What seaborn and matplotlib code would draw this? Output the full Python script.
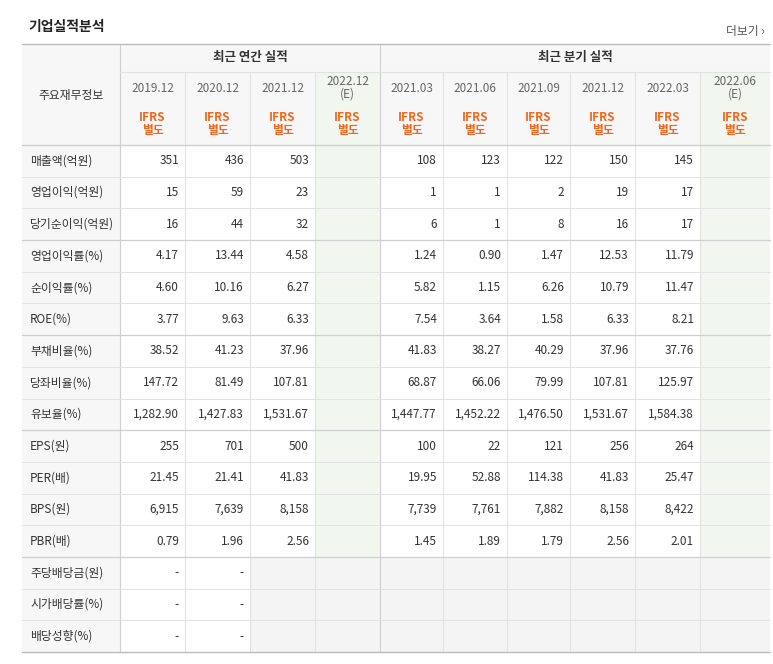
import matplotlib
matplotlib.use("Agg")
import matplotlib.pyplot as plt
import seaborn as sns
from matplotlib.patches import Rectangle

sns.set_theme(style="white")
plt.rcParams["font.family"] = ["Noto Sans CJK KR", "Noto Sans CJK JP", "Noto Sans CJK SC",
                               "Noto Sans CJK TC", "DejaVu Sans"]

annual_periods = ["2019.12", "2020.12", "2021.12", "2022.12\n(E)"]
quarter_periods = ["2021.03", "2021.06", "2021.09", "2021.12", "2022.03", "2022.06\n(E)"]
row_labels = ["매출액(억원)", "영업이익(억원)", "당기순이익(억원)", "영업이익률(%)", "순이익률(%)",
              "ROE(%)", "부채비율(%)", "당좌비율(%)", "유보율(%)", "EPS(원)", "PER(배)",
              "BPS(원)", "PBR(배)", "주당배당금(원)", "시가배당률(%)", "배당성향(%)"]
annual_values = [
    ["351", "436", "503"], ["15", "59", "23"], ["16", "44", "32"],
    ["4.17", "13.44", "4.58"], ["4.60", "10.16", "6.27"], ["3.77", "9.63", "6.33"],
    ["38.52", "41.23", "37.96"], ["147.72", "81.49", "107.81"], ["1,282.90", "1,427.83", "1,531.67"],
    ["255", "701", "500"], ["21.45", "21.41", "41.83"], ["6,915", "7,639", "8,158"],
    ["0.79", "1.96", "2.56"], ["-", "-", None], ["-", "-", None], ["-", "-", None]]
quarter_values = [
    ["108", "123", "122", "150", "145"], ["1", "1", "2", "19", "17"], ["6", "1", "8", "16", "17"],
    ["1.24", "0.90", "1.47", "12.53", "11.79"], ["5.82", "1.15", "6.26", "10.79", "11.47"],
    ["7.54", "3.64", "1.58", "6.33", "8.21"], ["41.83", "38.27", "40.29", "37.96", "37.76"],
    ["68.87", "66.06", "79.99", "107.81", "125.97"],
    ["1,447.77", "1,452.22", "1,476.50", "1,531.67", "1,584.38"],
    ["100", "22", "121", "256", "264"], ["19.95", "52.88", "114.38", "41.83", "25.47"],
    ["7,739", "7,761", "7,882", "8,158", "8,422"], ["1.45", "1.89", "1.79", "2.56", "2.01"],
    [None] * 5, [None] * 5, [None] * 5]

W, H = 773, 664
fig = plt.figure(figsize=(W / 100, H / 100), dpi=100)
ax = fig.add_axes([0, 0, 1, 1])
ax.set_xlim(0, W); ax.set_ylim(H, 0); ax.axis("off")

col_edges = [22, 120, 185, 250, 315, 380, 443, 507, 570, 635, 700, 770]
top, h1, h2, h3 = 44, 72, 104, 145
bottom = 652
rh = (bottom - h3) / len(row_labels)
row_edges = [h3 + i * rh for i in range(len(row_labels) + 1)]

def rect(x0, y0, x1, y1, c):
    ax.add_patch(Rectangle((x0, y0), x1 - x0, y1 - y0, facecolor=c, edgecolor="none", zorder=0))

rect(22, top, 770, h3, "#f7f7f7")
rect(22, top, 120, bottom, "#f7f7f7")
for ci in (4, 10):
    rect(col_edges[ci], h1, col_edges[ci + 1], bottom, "#f1f7ee")
for r in range(13, 16):
    rect(250, row_edges[r], 770, row_edges[r + 1], "#f4f4f4")

lc = "#e2e2e2"
for x in col_edges[1:-1]:
    y0 = top if x in (120, 380) else h1
    ax.plot([x, x], [y0, bottom], color="#cfcfcf" if x in (120, 380) else lc, lw=0.8)
ax.plot([22, 770], [top, top], color="#bbbbbb", lw=1)
ax.plot([120, 770], [h1, h1], color=lc, lw=0.8)
ax.plot([22, 770], [h3, h3], color="#cfcfcf", lw=1)
for r in range(1, len(row_labels)):
    strong = r in (3, 6, 9, 13)
    ax.plot([22, 770], [row_edges[r]] * 2, color="#cfcfcf" if strong else lc, lw=0.9 if strong else 0.7)
ax.plot([22, 770], [bottom, bottom], color="#bbbbbb", lw=1)

tc = "#333333"
ax.text(28, 27, "기업실적분석", fontsize=10, fontweight="bold", color="#222222", va="center")
ax.text(765, 32, "더보기 ›", fontsize=8.5, color="#555555", va="center", ha="right")
ax.text(250, 58, "최근 연간 실적", fontsize=9, fontweight="bold", color=tc, ha="center", va="center")
ax.text(575, 58, "최근 분기 실적", fontsize=9, fontweight="bold", color=tc, ha="center", va="center")
ax.text(71, 96, "주요재무정보", fontsize=8.5, color=tc, ha="center", va="center")

periods = annual_periods + quarter_periods
for i, p in enumerate(periods):
    cx = (col_edges[i + 1] + col_edges[i + 2]) / 2
    ax.text(cx, 88, p, fontsize=8.5, color="#666666", ha="center", va="center", linespacing=0.95)
    ax.text(cx, 124, "IFRS\n별도", fontsize=8.5, color="#f0661e", fontweight="bold",
            ha="center", va="center", linespacing=1.0)

for r, lab in enumerate(row_labels):
    cy = (row_edges[r] + row_edges[r + 1]) / 2
    ax.text(30, cy, lab, fontsize=8.5, color=tc, va="center")
    vals = annual_values[r] + [None] + quarter_values[r]
    for i, v in enumerate(vals):
        if v is None:
            continue
        ax.text(col_edges[i + 2] - 6, cy, v, fontsize=8.5, color=tc, ha="right", va="center")

fig.savefig("out.png", dpi=100, facecolor="white")
